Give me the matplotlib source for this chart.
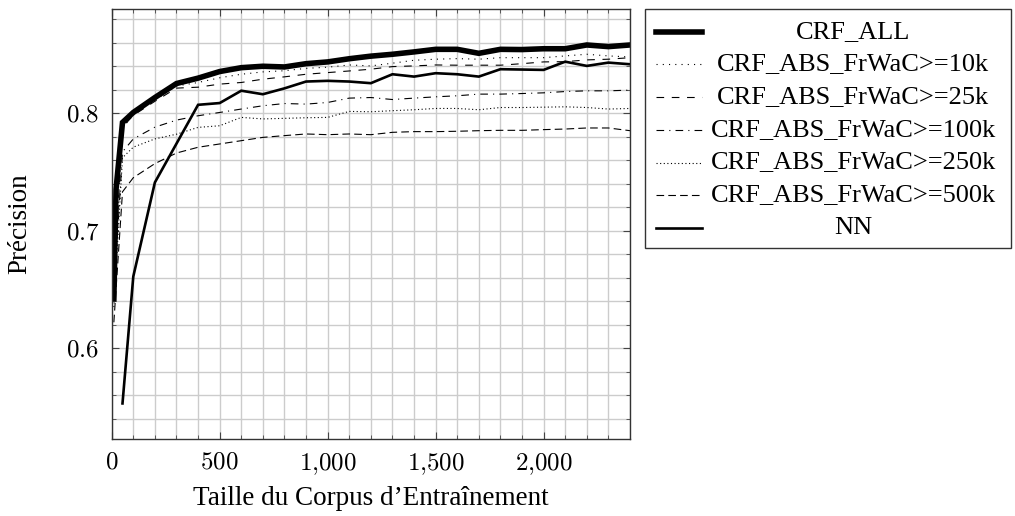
import matplotlib
matplotlib.use("Agg")
import matplotlib.pyplot as plt
from matplotlib.lines import Line2D
from matplotlib.patches import Rectangle
from matplotlib.ticker import MultipleLocator, FuncFormatter

plt.rcParams['font.family'] = ['Liberation Serif', 'DejaVu Serif']
plt.rcParams['mathtext.fontset'] = 'cm'
plt.rcParams['lines.scale_dashes'] = False

# tailles du corpus
sizes_all = [10, 20, 50] + list(range(100, 2401, 100))
sizes_abs = [10, 50] + list(range(100, 2401, 100))
sizes_nn = [50] + list(range(100, 2401, 100))

crf_all = [0.642, 0.735, 0.792, 0.8005, 0.8132, 0.8251, 0.8297, 0.8353, 0.8386, 0.8398,
           0.8392, 0.842, 0.8435, 0.8462, 0.8484, 0.850, 0.852, 0.8542, 0.8542, 0.8508,
           0.8542, 0.854, 0.8547, 0.8547, 0.8579, 0.8565, 0.8579]
abs_10k = [0.66, 0.787, 0.799, 0.811, 0.823, 0.826, 0.830, 0.833, 0.835, 0.836,
           0.838, 0.839, 0.8409, 0.8401, 0.8424, 0.8449, 0.8458, 0.8463, 0.8458, 0.8471,
           0.8471, 0.8471, 0.8486, 0.850, 0.8486, 0.8477]
abs_25k = [0.65, 0.788, 0.798, 0.810, 0.8212, 0.822, 0.8246, 0.826, 0.8288, 0.8308,
           0.833, 0.8344, 0.8358, 0.8373, 0.8395, 0.8401, 0.8409, 0.8407, 0.8407, 0.8407,
           0.842, 0.8435, 0.8437, 0.8452, 0.8458, 0.8471]
abs_100k = [0.645, 0.767, 0.778, 0.788, 0.794, 0.7977, 0.8005, 0.8034, 0.8062, 0.8081,
            0.8076, 0.809, 0.8127, 0.8132, 0.8115, 0.8127, 0.8138, 0.8147, 0.8161, 0.8161,
            0.8166, 0.8172, 0.8183, 0.8189, 0.8189, 0.8195]
abs_250k = [0.635, 0.762, 0.771, 0.778, 0.782, 0.7878, 0.7892, 0.7963, 0.795, 0.7955,
            0.796, 0.7963, 0.8014, 0.8011, 0.802, 0.8028, 0.8039, 0.8039, 0.8028, 0.8047,
            0.8047, 0.805, 0.8053, 0.8047, 0.8034, 0.8039]
abs_500k = [0.622, 0.733, 0.745, 0.757, 0.766, 0.7709, 0.7737, 0.7765, 0.7793, 0.7808,
            0.7822, 0.7816, 0.7822, 0.7816, 0.7836, 0.7842, 0.7842, 0.7845, 0.785, 0.7853,
            0.7853, 0.7859, 0.7864, 0.7873, 0.7873, 0.785]
nn = [0.553, 0.661, 0.741, 0.774, 0.807, 0.8085, 0.819, 0.816, 0.821, 0.8268,
      0.8274, 0.8268, 0.8254, 0.833, 0.831, 0.8339, 0.833, 0.831, 0.8373, 0.837,
      0.8367, 0.8437, 0.8401, 0.8429, 0.8415]

labels = ['CRF_ALL', 'CRF_ABS_FrWaC>=10k', 'CRF_ABS_FrWaC>=25k', 'CRF_ABS_FrWaC>=100k',
          'CRF_ABS_FrWaC>=250k', 'CRF_ABS_FrWaC>=500k', 'NN']

W, H = 1015, 516
fig = plt.figure(figsize=(W / 100, H / 100), dpi=100)
ax = fig.add_axes([111.7 / W, 1 - 439.3 / H, (630 - 111.7) / W, (439.3 - 9) / H])

# styles des courbes (pgfplots : ultra thick, dotted, dashed, ...)
styles = [
    dict(color='black', lw=4.0, ls='-'),
    dict(color='black', lw=0.8, ls=(0, (0.8, 3.7))),
    dict(color='black', lw=0.8, ls=(0, (5.5, 5.5))),
    dict(color='black', lw=0.8, ls=(0, (5.5, 3.7, 0.8, 3.7))),
    dict(color='black', lw=0.8, ls=(0, (0.8, 1.8))),
    dict(color='black', lw=0.8, ls=(0, (5.5, 3.0))),
    dict(color='black', lw=1.9, ls='-'),
]
series = [(sizes_all, crf_all), (sizes_abs, abs_10k), (sizes_abs, abs_25k),
          (sizes_abs, abs_100k), (sizes_abs, abs_250k), (sizes_abs, abs_500k),
          (sizes_nn, nn)]

for (xs, ys), st in zip(series, styles):
    ax.plot(xs, ys, solid_joinstyle='miter', **st)

ax.set_xlim(0, 2400)
ax.set_ylim(0.5225, 0.8885)
ax.xaxis.set_major_locator(MultipleLocator(500))
ax.xaxis.set_minor_locator(MultipleLocator(100))
ax.yaxis.set_major_locator(MultipleLocator(0.1))
ax.yaxis.set_minor_locator(MultipleLocator(0.02))
ax.xaxis.set_major_formatter(FuncFormatter(lambda v, p: '$' + f'{v:,.0f}'.replace(',', '{,}') + '$'))
ax.yaxis.set_major_formatter(FuncFormatter(lambda v, p: f'${v:.1f}$'))
ax.grid(True, which='both', color='#cccccc', lw=1.0)
ax.set_axisbelow(True)
ax.tick_params(which='both', direction='in', top=True, right=True, color='#444444',
               labelsize=18)
ax.tick_params(which='major', length=5, pad=9)
ax.tick_params(which='minor', length=3)
for s in ax.spines.values():
    s.set_color('#333333')
    s.set_linewidth(1.0)

ax.set_xlabel("Taille du Corpus d\u2019Entra\u00eenement", fontsize=19.5, labelpad=6)
ax.set_ylabel('Précision', fontsize=19.5, labelpad=24)

# légende à droite, texte centré comme pgfplots
fig.add_artist(Rectangle((645 / W, 1 - 248.3 / H), (1010.7 - 645) / W, (248.3 - 9) / H,
                         transform=fig.transFigure, fill=False, ec='#333333', lw=1.0))
for i, (lab, st) in enumerate(zip(labels, styles)):
    yy = 1 - (31.7 + 32.7 * i) / H
    fig.add_artist(Line2D([656 / W, 702 / W], [yy, yy], transform=fig.transFigure, **st))
    fig.text(853 / W, yy, lab, ha='center', va='center', fontsize=19)

fig.savefig('out.png', dpi=100)
